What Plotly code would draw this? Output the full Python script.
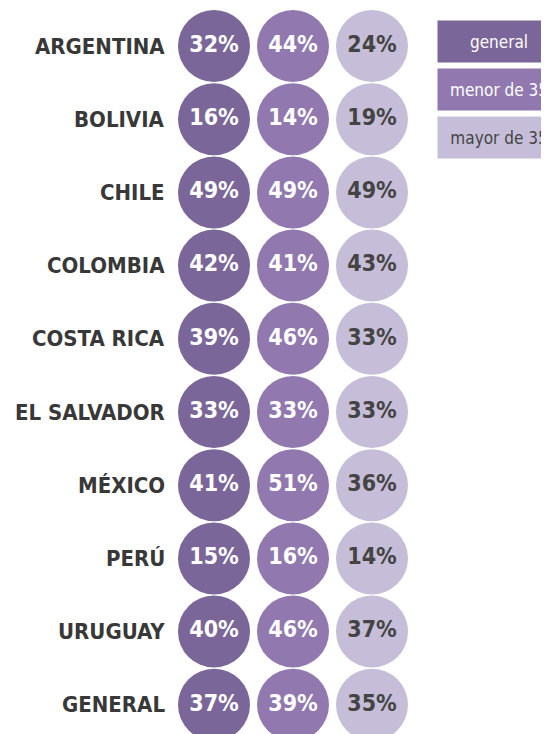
import plotly.graph_objects as go

countries = ["ARGENTINA", "BOLIVIA", "CHILE", "COLOMBIA", "COSTA RICA",
             "EL SALVADOR", "MÉXICO", "PERÚ", "URUGUAY", "GENERAL"]
series_names = ["general", "menor de 35", "mayor de 35"]
general = [32, 16, 49, 42, 39, 33, 41, 15, 40, 37]
menor_35 = [44, 14, 49, 41, 46, 33, 51, 16, 46, 39]
mayor_35 = [24, 19, 49, 43, 33, 33, 36, 14, 37, 35]
series_values = [general, menor_35, mayor_35]

colors = ["#7b6699", "#9179b0", "#c6bed8"]
text_colors = ["#ffffff", "#ffffff", "#444444"]
FONT = "DejaVu Sans Condensed, DejaVu Sans, sans-serif"

# page is shown with an 8px body margin, so the figure is 8px smaller each way
OFF = 8
W, H = 549 - OFF, 734 - OFF
fig = go.Figure()
for name, vals, c, tc in zip(series_names, series_values, colors, text_colors):
    fig.add_trace(go.Scatter(
        x=[name] * len(countries), y=countries,
        mode="markers+text",
        marker=dict(size=72, color=c, line=dict(width=0)),
        text=[f"{v}%" for v in vals],
        textposition="middle center",
        textfont=dict(family=FONT, size=23, color=tc, weight="bold"),
        hoverinfo="skip", showlegend=False, cliponaxis=False,
    ))

# country labels
for ctry in countries:
    fig.add_annotation(x=(167 - OFF) / W, xref="paper", xanchor="right",
                       y=ctry, yref="y", yanchor="middle",
                       text=ctry, showarrow=False,
                       font=dict(family=FONT, size=22, color="#383838", weight="bold"))

# legend boxes
leg_tops = [20, 68, 116]
for name, c, tc, top in zip(series_names, colors, text_colors, leg_tops):
    fig.add_annotation(x=(437 - OFF) / W, xref="paper", xanchor="left",
                       y=1 - (top - OFF) / H, yref="paper", yanchor="top",
                       text=name, showarrow=False, width=122, height=41,
                       bgcolor=c, borderpad=0, align="center", valign="middle",
                       font=dict(family=FONT, size=17, color=tc))

col_sp = 79.0
row_sp = 73.2
x0 = -(214 - OFF) / col_sp
y0 = -(46 - OFF) / row_sp
fig.update_layout(
    width=W, height=H, margin=dict(l=0, r=0, t=0, b=0),
    paper_bgcolor="white", plot_bgcolor="white",
    xaxis=dict(type="category", categoryarray=series_names, categoryorder="array",
               range=[x0, x0 + W / col_sp], visible=False, fixedrange=True),
    yaxis=dict(type="category", categoryarray=countries, categoryorder="array",
               range=[y0 + H / row_sp, y0], visible=False, fixedrange=True),
)
fig.write_html("out.html")
